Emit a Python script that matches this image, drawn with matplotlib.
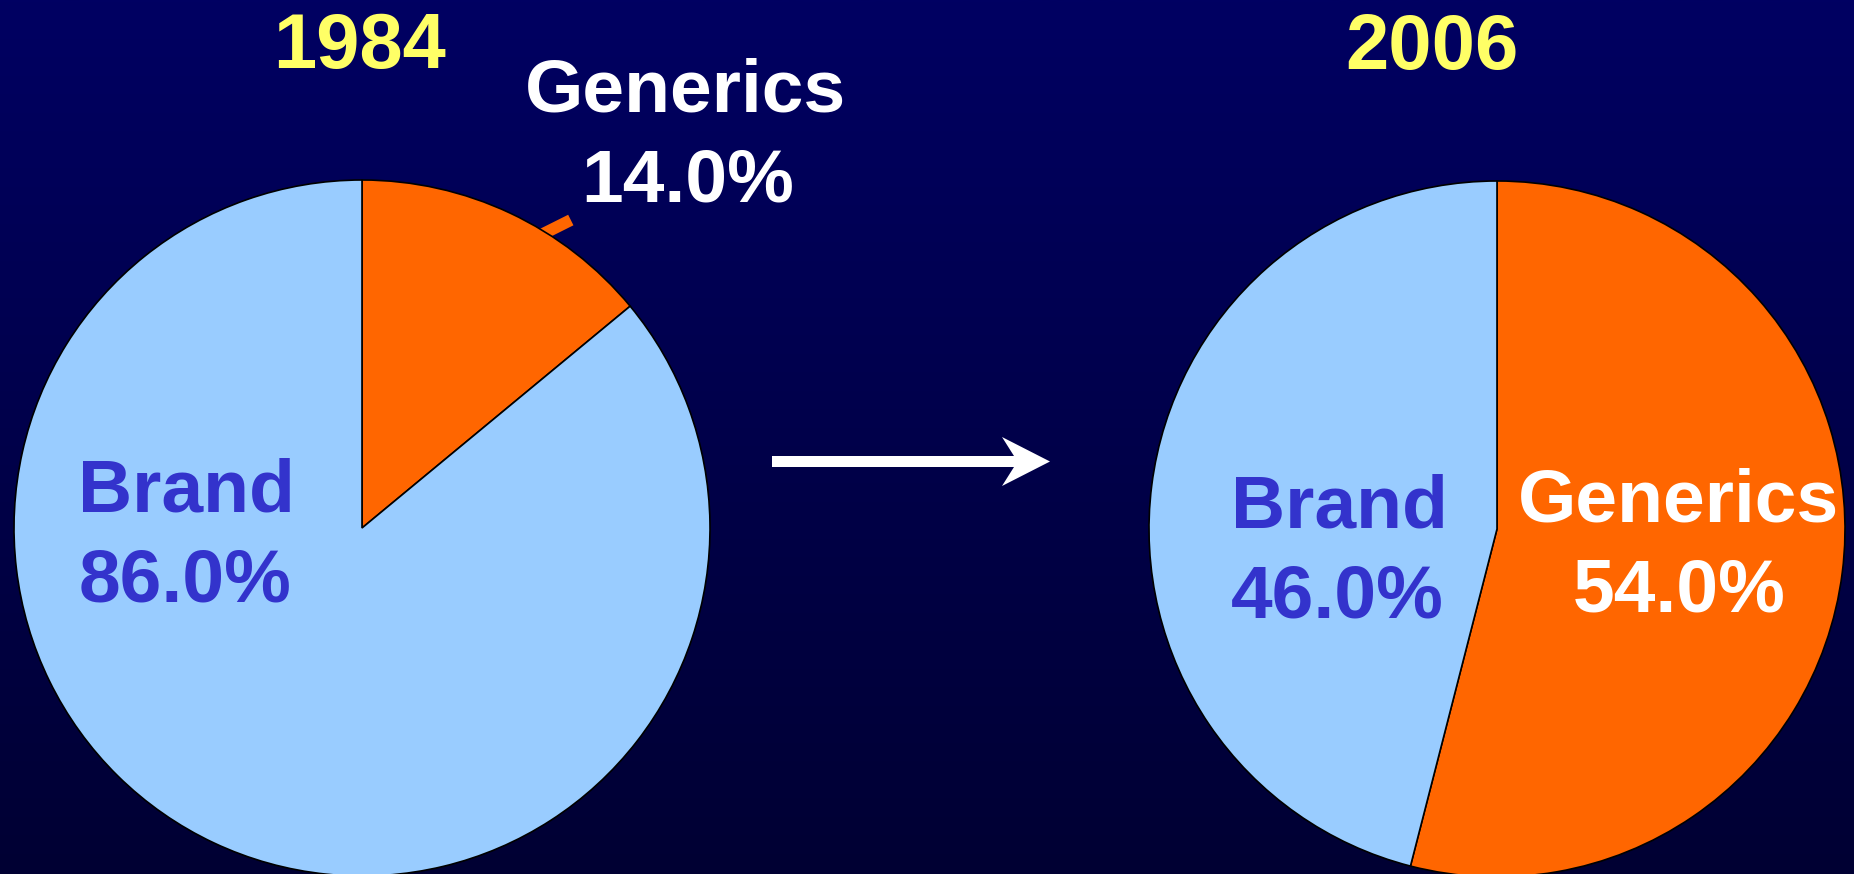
import numpy as np
import matplotlib
matplotlib.use("Agg")
import matplotlib.pyplot as plt
from matplotlib.patches import Polygon

# ---- data ----
years = ["1984", "2006"]
categories = ["Generics", "Brand"]
share_1984 = [14.0, 86.0]
share_2006 = [54.0, 46.0]
slice_colors = ["#FF6600", "#99CCFF"]

W, H = 1854, 874
DPI = 100
plt.rcParams['font.family'] = ['Liberation Sans', 'DejaVu Sans']

fig = plt.figure(figsize=(W / DPI, H / DPI), dpi=DPI)

# background gradient
ax_bg = fig.add_axes([0, 0, 1, 1], zorder=0)
top = np.array([0x00, 0x00, 0x62]) / 255
bot = np.array([0x00, 0x00, 0x33]) / 255
t = np.linspace(0, 1, 256)[:, None]
grad = (top[None, :] * (1 - t) + bot[None, :] * t)[:, None, :]
ax_bg.imshow(grad, extent=[0, W, H, 0], aspect='auto', interpolation='bilinear')
ax_bg.set_xlim(0, W)
ax_bg.set_ylim(H, 0)
ax_bg.axis('off')


def pie_axes(cx, cy, r):
    return fig.add_axes([(cx - r) / W, (H - cy - r) / H, 2 * r / W, 2 * r / H], zorder=1)


R = 348
ax1 = pie_axes(362, 528, R)
ax2 = pie_axes(1497, 529, R)
for ax, vals in ((ax1, share_1984), (ax2, share_2006)):
    ax.pie(vals, colors=slice_colors, startangle=90, counterclock=False,
           wedgeprops=dict(edgecolor='black', linewidth=1.2))
    ax.set_xlim(-1, 1)
    ax.set_ylim(-1, 1)
    ax.set_aspect('equal')
    ax.axis('off')
    ax.patch.set_visible(False)

# leader stub for 1984 Generics
ax1.plot([0.51, 0.60], [0.84, 0.885], color="#FF6600", lw=8.5,
         solid_capstyle='butt', zorder=0.5)

# overlay for text and arrow
ax_t = fig.add_axes([0, 0, 1, 1], zorder=3)
ax_t.set_xlim(0, W)
ax_t.set_ylim(H, 0)
ax_t.axis('off')
ax_t.patch.set_visible(False)

arrow = Polygon([(772, 456), (1014, 456), (1002, 437), (1050, 461.5),
                 (1002, 486), (1014, 467), (772, 467)],
                closed=True, facecolor='white', edgecolor='none')
ax_t.add_patch(arrow)

title_kw = dict(color="#FFFF66", fontsize=56, fontweight='bold', ha='center', va='baseline')
ax_t.text(360, 68, years[0], **title_kw)
ax_t.text(1432, 69, years[1], **title_kw)

lab_kw = dict(fontsize=54, fontweight='bold', ha='center', va='baseline')
white = "white"
blue = "#3333CC"
# 1984 labels
ax_t.text(686, 111, categories[0], color=white, **lab_kw)
ax_t.text(688, 202, f"{share_1984[0]:.1f}%", color=white, **lab_kw)
ax_t.text(186, 512, categories[1], color=blue, **lab_kw)
ax_t.text(185, 602, f"{share_1984[1]:.1f}%", color=blue, **lab_kw)
# 2006 labels
ax_t.text(1679, 522, categories[0], color=white, **lab_kw)
ax_t.text(1679, 612, f"{share_2006[0]:.1f}%", color=white, **lab_kw)
ax_t.text(1339, 527, categories[1], color=blue, **lab_kw)
ax_t.text(1337, 617, f"{share_2006[1]:.1f}%", color=blue, **lab_kw)

fig.savefig("out.png", dpi=DPI)
